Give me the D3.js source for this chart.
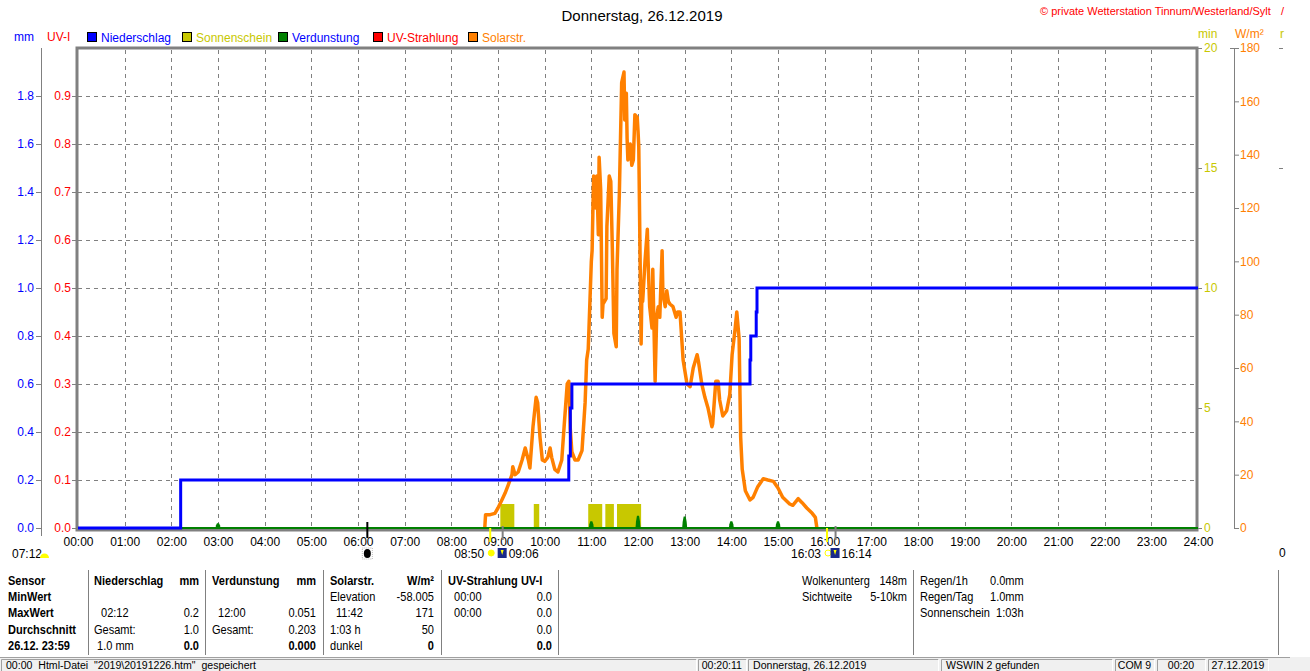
<!DOCTYPE html>
<html>
<head>
<meta charset="utf-8">
<script src="https://cdn.jsdelivr.net/npm/d3@7"></script>
<style>
body { margin: 0; background: #fff; }
svg text { font-family: "Liberation Sans", Arial, sans-serif; }
.tb text { font-size: 12px; }
.st text { font-size: 11.5px; }
</style>
</head>
<body>
<svg id="chart" width="1310" height="671"></svg>
<script>
// tick values
const hours = d3.range(0, 25);
const mmTicks = [0, 0.2, 0.4, 0.6, 0.8, 1.0, 1.2, 1.4, 1.6, 1.8];
const uvTicks = [0, 0.1, 0.2, 0.3, 0.4, 0.5, 0.6, 0.7, 0.8, 0.9];
const minTicks = [0, 5, 10, 15, 20];
const solTicks = [0, 20, 40, 60, 80, 100, 120, 140, 160, 180];

// Niederschlag (mm, summe)
const rainTimes = ["00:00", "02:12", "10:31", "10:33", "10:35", "14:24", "14:25", "14:32", "14:33", "24:00"];
const rainValues = [0, 0.2, 0.3, 0.5, 0.6, 0.7, 0.8, 0.9, 1.0, 1.0];

// Sonnenschein (min)
const sunStart = ["09:03", "09:46", "10:56", "11:18", "11:33"];
const sunEnd = ["09:21", "09:53", "11:14", "11:29", "12:04"];
const sunValue = 1;

// Verdunstung (mm)
const evapTimes = ["03:00", "11:00", "12:00", "13:00", "14:00", "15:00"];
const evapValues = [0.02, 0.028, 0.051, 0.048, 0.028, 0.028];

// Solarstrahlung (W/m2)
const solarTimes = ["08:43", "08:44", "08:50", "08:56", "09:00", "09:05", "09:09", "09:13", "09:18", "09:19",
  "09:22", "09:26", "09:31", "09:35", "09:39", "09:41", "09:45", "09:49", "09:51", "09:54",
  "09:57", "10:00", "10:04", "10:07", "10:09", "10:13", "10:17", "10:22", "10:25", "10:29",
  "10:31", "10:33", "10:35", "10:39", "10:43", "10:48", "10:52", "10:54", "10:56", "10:57",
  "11:00", "11:01", "11:02", "11:03", "11:06", "11:07", "11:09", "11:10", "11:12", "11:14",
  "11:15", "11:19", "11:20", "11:23", "11:25", "11:27", "11:29", "11:32", "11:33", "11:36",
  "11:39", "11:42", "11:43", "11:45", "11:46", "11:47", "11:50", "11:52", "11:54", "11:56",
  "11:59", "12:00", "12:01", "12:04", "12:05", "12:06", "12:09", "12:12", "12:13", "12:15",
  "12:18", "12:19", "12:22", "12:24", "12:26", "12:28", "12:31", "12:32", "12:35", "12:37",
  "12:39", "12:41", "12:45", "12:49", "12:51", "12:54", "12:58", "13:03", "13:07", "13:11",
  "13:16", "13:18", "13:22", "13:26", "13:30", "13:35", "13:36", "13:40", "13:43", "13:45",
  "13:49", "13:54", "13:58", "14:01", "14:05", "14:07", "14:10", "14:12", "14:14", "14:18",
  "14:24", "14:28", "14:34", "14:41", "14:47", "14:54", "15:00", "15:06", "15:15", "15:19",
  "15:26", "15:31", "15:37", "15:44", "15:48", "15:50"];
const solarValues = [0, 5, 5, 5.5, 7.5, 10.5, 13, 16, 20, 23,
  20, 21, 25.5, 30, 25.5, 22.5, 38, 49, 47, 34,
  25.5, 25, 26.5, 30, 26.5, 22, 21, 25.5, 38, 54,
  55, 37, 28.5, 25.5, 25.5, 29, 47, 63, 67, 75,
  100, 104, 119, 132, 120, 132, 110, 139, 127, 79,
  84, 86, 113, 132, 130, 105, 73, 68, 97, 125,
  167, 171, 153, 163, 146, 138, 144, 136, 138, 155,
  154, 149, 143, 69, 88, 85, 100, 112, 100, 83,
  75, 97, 55, 79, 83, 79, 104, 88, 83, 89,
  85, 84, 83, 79, 81, 81, 63, 54, 53, 60,
  65, 62, 54, 49, 45, 38, 39, 55, 55, 48,
  42, 44, 50, 65, 75, 81, 71, 34, 22, 14,
  10.5, 11.5, 15.5, 18.5, 18, 17.5, 15, 11.5, 9, 8.5,
  11, 9.5, 7.5, 5.5, 4, 0];

// Sonnenauf-/untergang, Mond
const riseTimes = ["08:50", "16:03"];
const dawnTimes = ["09:06", "16:14"];
const moonTime = "06:12";

function hrs(s) {
  const p = s.split(":");
  return +p[0] + p[1] / 60;
}

const svg = d3.select("#chart");
const grey = "#808080";

const x = d3.scaleLinear().domain([0, 24]).range([78, 1198]);
const yMm = d3.scaleLinear().domain([0, 2]).range([528, 48]);
const yUv = d3.scaleLinear().domain([0, 1]).range([528, 48]);
const yMin = d3.scaleLinear().domain([0, 20]).range([528, 48]);
const ySol = d3.scaleLinear().domain([0, 180]).range([528, 48]);

// title + header
svg.append("text").attr("x", 642).attr("y", 21).attr("text-anchor", "middle")
  .style("font-size", "15px").text("Donnerstag, 26.12.2019");
svg.append("text").attr("x", 1040).attr("y", 15).attr("fill", "#ff0000")
  .style("font-size", "11px").text("\u00a9 private Wetterstation Tinnum/Westerland/Sylt");
svg.append("text").attr("x", 1281).attr("y", 15).attr("fill", "#ff0000")
  .style("font-size", "11px").text("/");

svg.append("text").attr("x", 14).attr("y", 41).attr("fill", "#0000ff").style("font-size", "12px").text("mm");
svg.append("text").attr("x", 47).attr("y", 41).attr("fill", "#ff0000").style("font-size", "12px").text("UV-I");
svg.append("text").attr("x", 1198).attr("y", 38).attr("fill", "#c8c800").style("font-size", "12px").text("min");
svg.append("text").attr("x", 1235).attr("y", 38).attr("fill", "#ff8000").style("font-size", "12px").text("W/m\u00b2");
svg.append("text").attr("x", 1280).attr("y", 38).attr("fill", "#c8c800").style("font-size", "12px").text("r");

// legend
const legend = [
  { name: "Niederschlag", fill: "#0000ff", text: "#0000ff", x: 87 },
  { name: "Sonnenschein", fill: "#c8c800", text: "#c8c800", x: 182 },
  { name: "Verdunstung", fill: "#008000", text: "#0000ff", x: 278 },
  { name: "UV-Strahlung", fill: "#ff0000", text: "#ff0000", x: 373 },
  { name: "Solarstr.", fill: "#ff8000", text: "#ff8000", x: 468 }
];
const lg = svg.append("g").selectAll("g").data(legend).join("g");
lg.append("rect").attr("x", d => d.x + 0.5).attr("y", 32.5).attr("width", 9).attr("height", 9)
  .attr("fill", d => d.fill).attr("stroke", "#000");
lg.append("text").attr("x", d => d.x + 14).attr("y", 42).attr("fill", d => d.text)
  .style("font-size", "12px").text(d => d.name);

// plot frame
svg.append("rect").attr("x", 77).attr("y", 48).attr("width", 1120).attr("height", 482)
  .attr("fill", "none").attr("stroke", grey).attr("stroke-width", 3);

// grid
svg.append("g").selectAll("line").data(mmTicks.slice(1)).join("line")
  .attr("x1", 78).attr("x2", 1196).attr("y1", d => yMm(d) + 0.5).attr("y2", d => yMm(d) + 0.5)
  .attr("stroke", grey).attr("stroke-dasharray", "4,4");
svg.append("g").selectAll("line").data(hours.slice(1, 24)).join("line")
  .attr("x1", d => Math.round(x(d)) + 0.5).attr("x2", d => Math.round(x(d)) + 0.5)
  .attr("y1", 50).attr("y2", 527)
  .attr("stroke", grey).attr("stroke-dasharray", "4,4");

// Sonnenschein
svg.append("g").selectAll("rect").data(sunStart).join("rect")
  .attr("x", (d, i) => x(hrs(d)))
  .attr("width", (d, i) => x(hrs(sunEnd[i])) - x(hrs(d)))
  .attr("y", yMin(sunValue))
  .attr("height", yMin(0) - yMin(sunValue))
  .attr("fill", "#c8c800");

// Solarstrahlung
const solar = solarTimes.map((t, i) => ({ t: hrs(t), v: solarValues[i] }));
svg.append("path").datum(solar)
  .attr("d", d3.line().x(d => x(d.t)).y(d => ySol(d.v)))
  .attr("fill", "none").attr("stroke", "#ff8000").attr("stroke-width", 3.5)
  .attr("stroke-linejoin", "round");

// Verdunstung
svg.append("line").attr("x1", x(0)).attr("x2", x(24)).attr("y1", yMm(0)).attr("y2", yMm(0))
  .attr("stroke", "#008000").attr("stroke-width", 2);
svg.append("g").selectAll("path").data(evapTimes).join("path")
  .attr("d", (d, i) => {
    const cx = x(hrs(d)), y0 = yMm(0), y1 = yMm(evapValues[i]);
    const ym = y0 - (y0 - y1) * 0.55;
    return "M" + (cx - 2.5) + "," + y0 + "L" + (cx - 2) + "," + ym + "L" + (cx - 1) + "," + y1 +
      "L" + (cx + 1) + "," + y1 + "L" + (cx + 2) + "," + ym + "L" + (cx + 2.5) + "," + y0 + "Z";
  })
  .attr("fill", "#008000");

// Niederschlag
const rain = rainTimes.map((t, i) => ({ t: hrs(t), v: rainValues[i] }));
svg.append("path").datum(rain)
  .attr("d", d3.line().curve(d3.curveStepAfter).x(d => x(d.t)).y(d => yMm(d.v)))
  .attr("fill", "none").attr("stroke", "#0000ff").attr("stroke-width", 3);

// axes
function styleAxis(g, color) {
  g.select(".domain").remove();
  g.selectAll(".tick line").attr("stroke", grey);
  g.selectAll(".tick text").attr("fill", color).style("font-size", "12px");
}

svg.append("line").attr("x1", 41.5).attr("x2", 41.5).attr("y1", 48).attr("y2", 536).attr("stroke", grey);
svg.append("g").attr("transform", "translate(41,0)")
  .call(d3.axisLeft(yMm).tickValues(mmTicks).tickFormat(d3.format(".1f")).tickSize(5).tickPadding(2))
  .call(g => styleAxis(g, "#0000ff"));

svg.append("g").attr("transform", "translate(77,0)")
  .call(d3.axisLeft(yUv).tickValues(uvTicks).tickFormat(d3.format(".1f")).tickSize(5).tickPadding(1))
  .call(g => styleAxis(g, "#ff0000"));

svg.append("g").attr("transform", "translate(0,528)")
  .call(d3.axisBottom(x).tickValues(hours).tickFormat(h => String(h).padStart(2, "0") + ":00").tickSize(0).tickPadding(9))
  .call(g => styleAxis(g, "#000"));

svg.append("g").attr("transform", "translate(1198,0)")
  .call(d3.axisRight(yMin).tickValues(minTicks).tickSize(4).tickPadding(2))
  .call(g => styleAxis(g, "#c8c800"));

svg.append("line").attr("x1", 1234.5).attr("x2", 1234.5).attr("y1", 48).attr("y2", 528).attr("stroke", grey);
svg.append("line").attr("x1", 1230).attr("x2", 1239).attr("y1", 48.5).attr("y2", 48.5).attr("stroke", grey);
svg.append("g").attr("transform", "translate(1234,0)")
  .call(d3.axisRight(ySol).tickValues(solTicks).tickSize(5).tickPadding(1))
  .call(g => styleAxis(g, "#ff8000"));

svg.append("g").selectAll("line").data([20, 15]).join("line")
  .attr("x1", 1279).attr("x2", 1283).attr("y1", d => yMin(d) + 0.5).attr("y2", d => yMin(d) + 0.5)
  .attr("stroke", grey);
svg.append("text").attr("x", 1279).attr("y", 557).style("font-size", "12px").text("0");

// sun / moon markers under the axis
svg.append("text").attr("x", 12).attr("y", 558).style("font-size", "12px").text("07:12");
svg.append("path").attr("d", "M40,558 A4.5,4.5 0 0 1 49,558 Z").attr("fill", "#ffff00");

const mx = x(hrs(moonTime));
svg.append("line").attr("x1", mx).attr("x2", mx).attr("y1", 522).attr("y2", 538)
  .attr("stroke", "#000").attr("stroke-width", 2);
svg.append("rect").attr("x", mx - 5).attr("y", 548).attr("width", 10).attr("height", 11)
  .attr("fill", "none").attr("stroke", "#bbb").attr("stroke-dasharray", "1,1");
svg.append("ellipse").attr("cx", mx).attr("cy", 553.5).attr("rx", 3.5).attr("ry", 4.5).attr("fill", "#000");

riseTimes.forEach((t, i) => {
  const a = x(hrs(t)), b = x(hrs(dawnTimes[i]));
  svg.append("line").attr("x1", a).attr("x2", a).attr("y1", 528).attr("y2", 542)
    .attr("stroke", "#ffff00").attr("stroke-width", 2);
  svg.append("line").attr("x1", b).attr("x2", b).attr("y1", 526).attr("y2", 540)
    .attr("stroke", grey).attr("stroke-width", 2);
  svg.append("text").attr("x", a - 6).attr("y", 558).attr("text-anchor", "end")
    .style("font-size", "12px").text(t);
  svg.append("circle").attr("cx", a + 1).attr("cy", 553).attr("r", 3)
    .attr("fill", i === 0 ? "#ffff00" : "none").attr("stroke", "#ffff00");
  svg.append("rect").attr("x", b - 5).attr("y", 548).attr("width", 9).attr("height", 10).attr("fill", "#1a2a8a");
  svg.append("path").attr("d", "M" + (b - 2) + ",550 L" + (b + 1) + ",550 L" + (b - 0.5) + ",555 Z").attr("fill", "#ffff00");
  svg.append("text").attr("x", b + 6).attr("y", 558).style("font-size", "12px").text(dawnTimes[i]);
});

// statistics table
const narrow = 0.92;
const tb = svg.append("g").attr("class", "tb");
const rowY = [585, 601, 617, 634, 650];
const colSep = [88, 205, 323, 441, 558];
tb.selectAll("line.sep").data(colSep).join("line")
  .attr("x1", d => d + 0.5).attr("x2", d => d + 0.5).attr("y1", 570).attr("y2", 655).attr("stroke", grey);
[913, 1278].forEach(v => tb.append("line").attr("x1", v + 0.5).attr("x2", v + 0.5)
  .attr("y1", 570).attr("y2", 655).attr("stroke", grey));

const cells = [
  // [text, x, row, anchor, bold]
  ["Sensor", 8, 0, "start", 1], ["MinWert", 8, 1, "start", 1], ["MaxWert", 8, 2, "start", 1],
  ["Durchschnitt", 8, 3, "start", 1], ["26.12. 23:59", 8, 4, "start", 1],
  ["Niederschlag", 94, 0, "start", 1], ["mm", 199, 0, "end", 1],
  ["02:12", 101, 2, "start", 0], ["0.2", 199, 2, "end", 0],
  ["Gesamt:", 94, 3, "start", 0], ["1.0", 199, 3, "end", 0],
  ["1.0 mm", 97, 4, "start", 0], ["0.0", 199, 4, "end", 1],
  ["Verdunstung", 212, 0, "start", 1], ["mm", 316, 0, "end", 1],
  ["12:00", 218, 2, "start", 0], ["0.051", 316, 2, "end", 0],
  ["Gesamt:", 212, 3, "start", 0], ["0.203", 316, 3, "end", 0],
  ["0.000", 316, 4, "end", 1],
  ["Solarstr.", 330, 0, "start", 1], ["W/m\u00b2", 434, 0, "end", 1],
  ["Elevation", 330, 1, "start", 0], ["-58.005", 434, 1, "end", 0],
  ["11:42", 336, 2, "start", 0], ["171", 434, 2, "end", 0],
  ["1:03 h", 330, 3, "start", 0], ["50", 434, 3, "end", 0],
  ["dunkel", 330, 4, "start", 0], ["0", 434, 4, "end", 1],
  ["UV-Strahlung UV-I", 448, 0, "start", 1],
  ["00:00", 454, 1, "start", 0], ["0.0", 552, 1, "end", 0],
  ["00:00", 454, 2, "start", 0], ["0.0", 552, 2, "end", 0],
  ["0.0", 552, 3, "end", 0], ["0.0", 552, 4, "end", 1],
  ["Wolkenunterg", 802, 0, "start", 0], ["148m", 907, 0, "end", 0],
  ["Sichtweite", 802, 1, "start", 0], ["5-10km", 907, 1, "end", 0],
  ["Regen/1h", 920, 0, "start", 0], ["0.0mm", 990, 0, "start", 0],
  ["Regen/Tag", 920, 1, "start", 0], ["1.0mm", 990, 1, "start", 0],
  ["Sonnenschein  1:03h", 920, 2, "start", 0]
];
tb.selectAll("text").data(cells).join("text")
  .attr("transform", d => "translate(" + d[1] + "," + rowY[d[2]] + ") scale(" + narrow + ",1)")
  .attr("text-anchor", d => d[3])
  .style("font-weight", d => d[4] ? "bold" : "normal")
  .style("white-space", "pre")
  .text(d => d[0]);

// status bar
const st = svg.append("g").attr("class", "st");
st.append("rect").attr("x", 0).attr("y", 657).attr("width", 1310).attr("height", 14).attr("fill", "#f0f0f0");
st.append("line").attr("x1", 0).attr("x2", 1290).attr("y1", 657.5).attr("y2", 657.5).attr("stroke", "#a0a0a0");
const statusCells = [
  { x0: 1, x1: 696, text: "00:00  Html-Datei  \"2019\\20191226.htm\"  gespeichert", anchor: "start" },
  { x0: 698, x1: 746, text: "00:20:11", anchor: "end" },
  { x0: 748, x1: 938, text: "Donnerstag, 26.12.2019", anchor: "start" },
  { x0: 941, x1: 1112, text: "WSWIN 2 gefunden", anchor: "start" },
  { x0: 1115, x1: 1154, text: "COM 9", anchor: "middle" },
  { x0: 1157, x1: 1205, text: "00:20", anchor: "middle" },
  { x0: 1208, x1: 1268, text: "27.12.2019", anchor: "middle" }
];
const sc = st.selectAll("g").data(statusCells).join("g");
sc.append("path").attr("d", d => "M" + (d.x0 + 0.5) + ",671 V659.5 H" + (d.x1 + 0.5))
  .attr("fill", "none").attr("stroke", "#a0a0a0");
sc.append("path").attr("d", d => "M" + (d.x1 + 0.5) + ",659.5 V671")
  .attr("fill", "none").attr("stroke", "#fff");
sc.append("text")
  .attr("transform", d => {
    const tx = d.anchor === "start" ? d.x0 + 5 : d.anchor === "end" ? d.x1 - 4 : (d.x0 + d.x1) / 2;
    return "translate(" + tx + ",669) scale(" + narrow + ",1)";
  })
  .attr("text-anchor", d => d.anchor)
  .style("white-space", "pre")
  .text(d => d.text);
</script>
</body>
</html>
